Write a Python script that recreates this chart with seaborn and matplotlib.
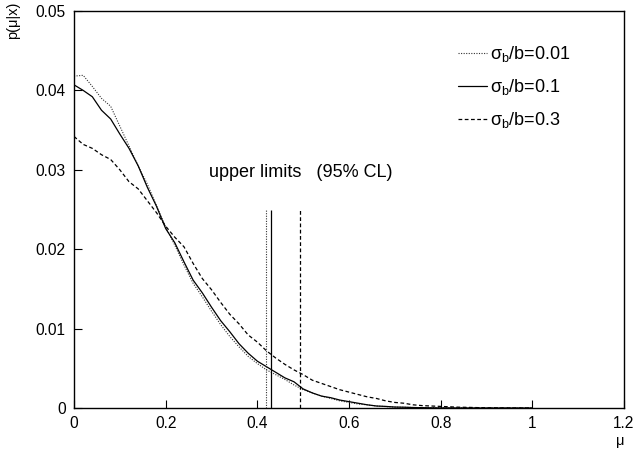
import numpy as np
import pandas as pd
import matplotlib
matplotlib.use("Agg")
import matplotlib.pyplot as plt
import seaborn as sns
from matplotlib.ticker import FuncFormatter
from matplotlib.lines import Line2D

# ---------------- data ----------------
mu = [0.00, 0.02, 0.04, 0.06, 0.08, 0.10, 0.12, 0.14, 0.16, 0.18,
      0.20, 0.22, 0.24, 0.26, 0.28, 0.30, 0.32, 0.34, 0.36, 0.38,
      0.40, 0.42, 0.44, 0.46, 0.48, 0.50, 0.52, 0.54, 0.56, 0.58,
      0.60, 0.62, 0.64, 0.66, 0.68, 0.70, 0.72, 0.74, 0.76, 0.78,
      0.80, 0.82, 0.84, 0.86, 0.88, 0.90, 0.92, 0.94, 0.96, 0.98, 1.00]

p_001 = [0.0418, 0.0419, 0.0405, 0.0390, 0.0380, 0.0355, 0.0330, 0.0305, 0.0282, 0.0255,
         0.0228, 0.0205, 0.0180, 0.0157, 0.0140, 0.0122, 0.0105, 0.0090, 0.0077, 0.0065,
         0.0056, 0.0048, 0.0042, 0.0036, 0.0029, 0.0023, 0.0019, 0.0015, 0.0012, 0.0009,
         0.0007, 0.0005, 0.0004, 0.00025, 0.00018, 0.00012, 0.00009, 0.00006, 0.00004, 0.00003,
         0.00002, 0.00001, 0.00001, 0.0, 0.0, 0.0, 0.0, 0.0, 0.0, 0.0, 0.0]

p_01 = [0.0407, 0.0400, 0.0392, 0.0375, 0.0364, 0.0345, 0.0327, 0.0305, 0.0278, 0.0254,
        0.0226, 0.0208, 0.0184, 0.0161, 0.0145, 0.0127, 0.0110, 0.0096, 0.0081, 0.0069,
        0.0059, 0.0052, 0.0045, 0.0038, 0.0033, 0.0024, 0.0019, 0.0015, 0.0013, 0.0010,
        0.0008, 0.0006, 0.0004, 0.00025, 0.0002, 0.00012, 0.0001, 0.00006, 0.00004, 0.00002,
        0.00001, 0.00001, 0.0, 0.0, 0.0, 0.0, 0.0, 0.0, 0.0, 0.0, 0.0]

p_03 = [0.0342, 0.0332, 0.0327, 0.0319, 0.0313, 0.0300, 0.0285, 0.0276, 0.0261, 0.0246,
        0.0229, 0.0215, 0.0203, 0.0182, 0.0163, 0.0149, 0.0133, 0.0118, 0.0106, 0.0092,
        0.0083, 0.0072, 0.0063, 0.0055, 0.0048, 0.0042, 0.0035, 0.0031, 0.0027, 0.0023,
        0.0020, 0.0017, 0.0014, 0.0012, 0.0009, 0.0007, 0.0006, 0.0004, 0.0003, 0.00025,
        0.0002, 0.00015, 0.0001, 0.00008, 0.00005, 0.00003, 0.00002, 0.00001, 0.0, 0.0, 0.0]

labels = ["σ$_b$/b=0.01", "σ$_b$/b=0.1", "σ$_b$/b=0.3"]
upper_limits = [0.418, 0.429, 0.492]
limit_height = 0.025

x_ticks = [0, 0.2, 0.4, 0.6, 0.8, 1.0, 1.2]
y_ticks = [0, 0.01, 0.02, 0.03, 0.04, 0.05]

# ---------------- style ----------------
sns.set_theme(style="ticks")
plt.rcParams["font.family"] = ["Liberation Sans", "DejaVu Sans"]
plt.rcParams["mathtext.default"] = "regular"
plt.rcParams["axes.edgecolor"] = "black"
plt.rcParams["axes.linewidth"] = 1.0
plt.rcParams["text.color"] = "black"
plt.rcParams["xtick.color"] = "black"
plt.rcParams["ytick.color"] = "black"
plt.rcParams["xtick.labelcolor"] = "black"
plt.rcParams["ytick.labelcolor"] = "black"

FS_TICK = 11.2
FS_TEXT = 13
FS_LAB = 10.5
styles = [
    dict(linestyle=(0, (1, 1.3)), linewidth=0.8, color="#333333"),
    dict(linestyle="-", linewidth=0.9, color="black"),
    dict(linestyle=(0, (3, 2)), linewidth=0.9, color="black"),
]

fig = plt.figure(figsize=(6.36, 4.51), dpi=100)
ax = fig.add_axes([74 / 636, 1 - 408 / 451, 550 / 636, 397 / 451])

df = pd.DataFrame({"mu": mu, "p001": p_001, "p01": p_01, "p03": p_03})
for col, st in zip(["p001", "p01", "p03"], styles):
    sns.lineplot(data=df, x="mu", y=col, ax=ax, **st)

for ul, st in zip(upper_limits, styles):
    ax.vlines(ul, 0, limit_height, linestyles=st["linestyle"],
              linewidth=st["linewidth"], colors=st["color"])

ax.set_xlim(0, 1.2)
ax.set_ylim(0, 0.05)
ax.set_xticks(x_ticks)
ax.set_yticks(y_ticks)
fmt = FuncFormatter(lambda v, pos: f"{v:g}")
ax.xaxis.set_major_formatter(fmt)
ax.yaxis.set_major_formatter(fmt)
ax.tick_params(axis="both", direction="in", length=5.5, width=0.8,
               labelsize=FS_TICK, colors="black", labelcolor="black")
ax.tick_params(axis="x", pad=6)
ax.tick_params(axis="y", pad=6)
ax.set_xlabel("")
ax.set_ylabel("")
for s in ax.spines.values():
    s.set_visible(True)
    s.set_color("black")

ax.text(0.2946, 0.0296, "upper limits   (95% CL)", fontsize=FS_TEXT,
        ha="left", va="center", color="black")

handles = [Line2D([], [], **st) for st in styles]
leg = ax.legend(handles, labels, loc="upper left", bbox_to_anchor=(0.698, 0.917),
                frameon=False, fontsize=FS_TEXT, handlelength=1.6, handletextpad=0.17,
                labelspacing=0.72, borderpad=0, borderaxespad=0)
for t in leg.get_texts():
    t.set_color("black")

fig.text(13 / 636, 1 - 2 / 451, "p(μ|x)", rotation=90, ha="center", va="top",
         fontsize=FS_LAB, color="black")
fig.text(620 / 636, 1 - 441 / 451, "μ", ha="center", va="center",
         fontsize=FS_LAB, color="black")

fig.savefig("out.png", dpi=100)
